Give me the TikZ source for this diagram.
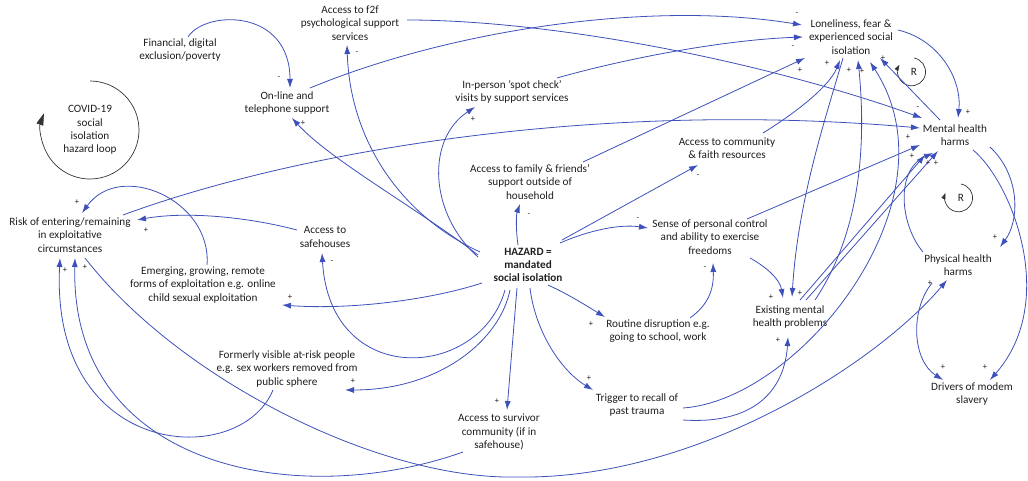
\documentclass[tikz,border=0pt]{standalone}
\usepackage{fontspec}
\setmainfont{Carlito}
\usetikzlibrary{arrows.meta}
\definecolor{cl}{RGB}{62,80,185}
\begin{document}
\begin{tikzpicture}[x=1pt,y=-1pt,
  lbl/.style={align=center,font=\fontsize{11.2}{13.4}\selectfont,inner sep=1pt,text=black!88},
  e/.style={draw=cl,line width=0.8pt,-{Latex[length=9pt,width=6pt]}},
  sg/.style={font=\fontsize{8.5}{8.5}\selectfont,inner sep=0pt,text=black!88},
  loopar/.style={draw=black!80,line width=0.7pt}
]
\useasboundingbox (0,0) rectangle (1028,481);
% nodes
\node[lbl] (f2f) at (350,23) {Access to f2f\\psychological support\\services};
\node[lbl] (fin) at (180,50) {Financial, digital\\exclusion/poverty};
\node[lbl] (covid) at (90,130) {COVID-19\\social\\isolation\\hazard loop};
\node[lbl] (onl) at (287,103) {On-line and\\telephone support};
\node[lbl] (insp) at (512,92) {In-person 'spot check'\\visits by support services};
\node[lbl] (lon) at (851,37) {Loneliness, fear \&\\experienced social\\isolation};
\node[lbl] (mhh) at (955,135) {Mental health\\harms};
\node[lbl] (comm) at (727,148) {Access to community\\\& faith resources};
\node[lbl] (fam) at (530,182) {Access to family \& friends'\\support outside of\\household};
\node[lbl] (risk) at (70,235) {Risk of entering/remaining\\in exploitative\\circumstances};
\node[lbl] (safe) at (325,237) {Access to\\safehouses};
\node[lbl,font=\fontsize{11.2}{13.4}\selectfont\bfseries] (haz) at (528,265) {HAZARD =\\mandated\\social isolation};
\node[lbl] (sense) at (710,237) {Sense of personal control\\and ability to exercise\\freedoms};
\node[lbl] (phys) at (958,265) {Physical health\\harms};
\node[lbl] (emg) at (203,285) {Emerging, growing, remote\\forms of exploitation e.g. online\\child sexual exploitation};
\node[lbl] (exist) at (790,317) {Existing mental\\health problems};
\node[lbl] (rout) at (658,331) {Routine disruption e.g.\\going to school, work};
\node[lbl] (form) at (287,369) {Formerly visible at-risk people\\e.g. sex workers removed from\\public sphere};
\node[lbl] (surv) at (499,432) {Access to survivor\\community (if in\\safehouse)};
\node[lbl] (trig) at (637,405) {Trigger to recall of\\past trauma};
\node[lbl] (drv) at (972,394) {Drivers of modem\\slavery};
\node[lbl] (r1) at (914,72) {R};
\node[lbl] (r2) at (961,198) {R};
% loops
\draw[loopar,-{Triangle[length=12pt,width=7pt]}] ([yshift=49pt]covid.center) arc[start angle=90,end angle=-200,radius=49pt];
\draw[loopar,-{Triangle[length=6pt,width=4pt]}] ([yshift=14pt]r1.center) arc[start angle=80,end angle=-210,radius=14pt];
\draw[loopar,-{Triangle[length=6pt,width=4pt]}] ([yshift=14pt]r2.center) arc[start angle=80,end angle=-200,radius=14pt];
% edges
\draw[e] ([shift={(8,-13)}]fin.center) .. controls (205,10) and (290,8) .. ([shift={(3,-15)}]onl.center);
\draw[e] ([shift={(23,-15)}]onl.center) .. controls (450,30) and (650,0) .. ([shift={(-49,-12)}]lon.center);
\draw[e] ([shift={(45,-14)}]insp.center) .. controls (620,60) and (720,40) .. ([shift={(-48,0)}]lon.center);
\draw[e] ([shift={(57,-3)}]f2f.center) .. controls (550,20) and (760,60) .. ([shift={(-33,-17)}]mhh.center);
\draw[e] ([shift={(53,-20)}]risk.center) .. controls (300,150) and (600,100) .. ([shift={(-35,-7)}]mhh.center);
\draw[e] ([shift={(47,-7)}]lon.center) .. controls (940,40) and (962,80) .. ([shift={(3,-17)}]mhh.center);
\draw[e] ([shift={(-15,-15)}]mhh.center) -- ([shift={(29,21)}]lon.center);
\draw[e] ([shift={(36,-15)}]comm.center) .. controls (800,110) and (830,85) .. ([shift={(-11,23)}]lon.center);
\draw[e] ([shift={(53,-20)}]fam.center) -- ([shift={(-46,21)}]lon.center);
\draw[e] ([shift={(-8,21)}]lon.center) .. controls (825,120) and (798,200) .. ([shift={(2,-20)}]exist.center);
\draw[e] ([shift={(25,-17)}]exist.center) .. controls (862,230) and (866,140) .. ([shift={(7,23)}]lon.center);
\draw[e] ([shift={(46,3)}]trig.center) .. controls (800,400) and (960,200) .. ([shift={(19,25)}]lon.center);
\draw[e] ([shift={(40,21)}]sense.center) .. controls (768,268) and (780,280) .. ([shift={(-7,-19)}]exist.center);
\draw[e] ([shift={(10,-17)}]exist.center) -- ([shift={(-30,20)}]mhh.center);
\draw[e] ([shift={(16,-17)}]exist.center) -- ([shift={(-17,16)}]mhh.center);
\draw[e] ([shift={(46,15)}]trig.center) .. controls (760,425) and (785,385) .. ([shift={(-2,20)}]exist.center);
\draw[e] ([shift={(37,-18)}]sense.center) -- ([shift={(-35,10)}]mhh.center);
\draw[e] ([shift={(-48,-13)}]haz.center) .. controls (400,215) and (350,140) .. ([shift={(-3,22)}]f2f.center);
\draw[e] ([shift={(-50,-10)}]haz.center) .. controls (420,210) and (330,160) .. ([shift={(5,15)}]onl.center);
\draw[e] ([shift={(-50,-8)}]haz.center) .. controls (430,215) and (425,140) .. ([shift={(-37,15)}]insp.center);
\draw[e] ([shift={(-10,-20)}]haz.center) .. controls (516,232) and (516,215) .. ([shift={(-10,22)}]fam.center);
\draw[e] ([shift={(32,-22)}]haz.center) .. controls (590,230) and (620,224) .. ([shift={(-62,-9)}]sense.center);
\draw[e] ([shift={(34,-25)}]haz.center) -- ([shift={(-29,17)}]comm.center);
\draw[e] ([shift={(20,20)}]haz.center) .. controls (570,295) and (590,308) .. ([shift={(-53,-14)}]rout.center);
\draw[e] ([shift={(2,23)}]haz.center) .. controls (535,330) and (560,370) .. ([shift={(-44,-15)}]trig.center);
\draw[e] ([shift={(-11,23)}]haz.center) -- ([shift={(8,-22)}]surv.center);
\draw[e] ([shift={(-18,25)}]haz.center) .. controls (500,340) and (440,390) .. ([shift={(58,21)}]form.center);
\draw[e] ([shift={(-46,18)}]haz.center) .. controls (430,300) and (350,310) .. ([shift={(79,20)}]emg.center);
\draw[e] ([shift={(-23,25)}]haz.center) .. controls (480,380) and (330,390) .. ([shift={(-3,16)}]safe.center);
\draw[e] ([shift={(-28,-7)}]safe.center) .. controls (240,215) and (180,212) .. ([shift={(67,-15)}]risk.center);
\draw[e] ([shift={(4,-20)}]emg.center) .. controls (212,200) and (120,160) .. ([shift={(12,-22)}]risk.center);
\draw[e] ([shift={(-14,21)}]form.center) .. controls (240,470) and (50,460) .. ([shift={(-10,23)}]risk.center);
\draw[e] ([shift={(-36,20)}]surv.center) .. controls (300,510) and (70,470) .. ([shift={(5,23)}]risk.center);
\draw[e] ([shift={(15,23)}]risk.center) .. controls (180,380) and (380,480) .. (517,477) .. controls (700,480) and (880,360) .. ([shift={(-11,15)}]phys.center);
\draw[e] ([shift={(32,-13)}]rout.center) .. controls (708,305) and (714,290) .. ([shift={(3,26)}]sense.center);
\draw[e] ([shift={(35,12)}]mhh.center) .. controls (1020,175) and (1020,220) .. ([shift={(42,-18)}]phys.center);
\draw[e] ([shift={(18,15)}]mhh.center) .. controls (1010,180) and (1060,300) .. ([shift={(18,-14)}]drv.center);
\draw[e] ([shift={(-26,18)}]phys.center) .. controls (910,310) and (912,360) .. ([shift={(-29,-14)}]drv.center);
\draw[e] ([shift={(-35,-13)}]phys.center) .. controls (900,225) and (895,170) .. ([shift={(-22,18)}]mhh.center);
% polarity signs
\foreach \x/\y/\t [count=\i] in {279/78/-, 303/123/+, 357/53/-, 473/119/+, 797/14/-, 793/47/-,
  800/70/+, 827/63/+, 849/70/+, 862/71/+, 883/58/+, 918/108/-, 968/112/+, 908/137/+, 912/156/+,
  928/163/+, 936/163/+, 529/215/-, 638/219/-, 698/176/-, 77/202/+, 146/230/+, 65/270/+, 85/267/+,
  332/262/-, 290/297/+, 591/324/+, 705/268/-, 771/297/+, 800/293/+, 778/340/+, 995/237/+,
  930/283/+, 943/367/+, 985/367/+, 353/381/+, 497/401/+, 589/378/+}
  \node[sg] (s\i) at (\x,\y) {\t};
\end{tikzpicture}
\end{document}
